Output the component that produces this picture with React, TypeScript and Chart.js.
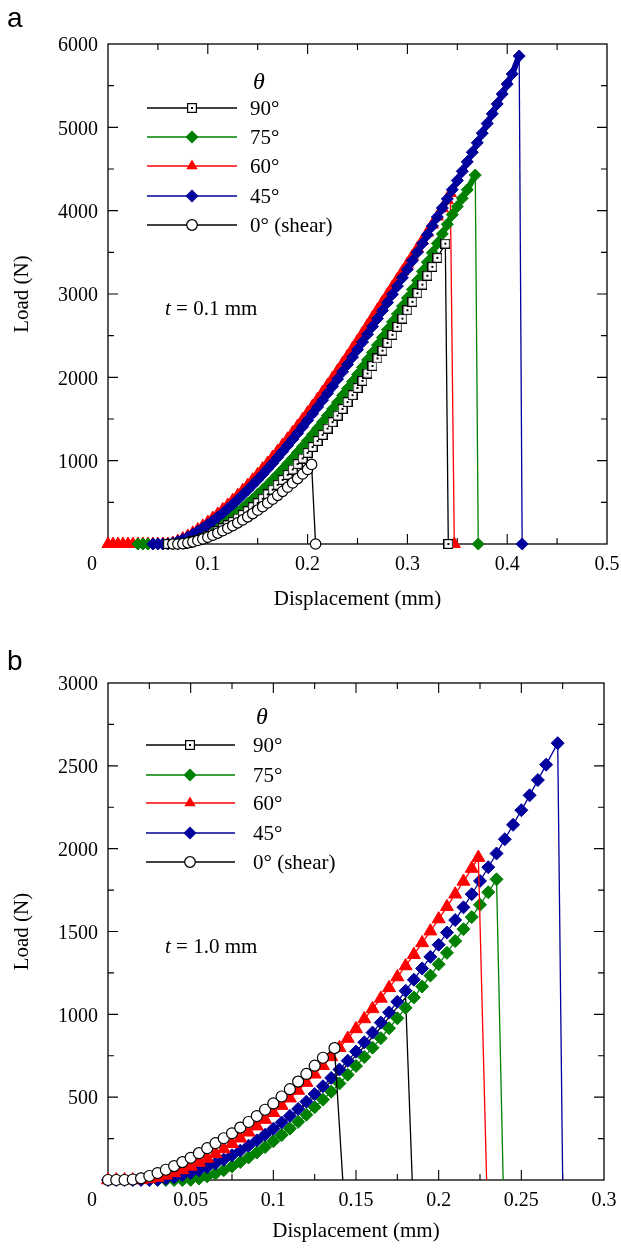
import React, { useEffect, useRef } from "react";
import { Chart, registerables } from "chart.js";

Chart.register(...registerables);

// ================= DATA: panel a (t = 0.1 mm) =================
const GRID_A = [
  0, 0.005, 0.01, 0.015, 0.02, 0.025, 0.03, 0.035, 0.04, 0.045, 0.05, 0.055, 0.06, 0.065, 0.07, 0.075,
  0.08, 0.085, 0.09, 0.095, 0.1, 0.105, 0.11, 0.115, 0.12, 0.125, 0.13, 0.135, 0.14, 0.145, 0.15, 0.155,
  0.16, 0.165, 0.17, 0.175, 0.18, 0.185, 0.19, 0.195, 0.2, 0.205, 0.21, 0.215, 0.22, 0.225, 0.23, 0.235,
  0.24, 0.245, 0.25, 0.255, 0.26, 0.265, 0.27, 0.275, 0.28, 0.285, 0.29, 0.295, 0.3, 0.305, 0.31, 0.315,
  0.32, 0.325, 0.33, 0.335, 0.34, 0.345, 0.35, 0.355, 0.36, 0.365, 0.37, 0.375, 0.38, 0.385, 0.39, 0.395,
  0.4, 0.405, 0.41,
];
const X_LABELS_A = [0.1, 0.2, 0.3, 0.4, 0.5];
const Y_LABELS_A = [1000, 2000, 3000, 4000, 5000, 6000];

// 90°
const A90_FROM = 12;
const A90_Y = [
  0, 0, 0, 5, 16, 31, 50, 72, 97, 125, 156, 190, 226, 265, 306, 349, 394, 441, 491, 543, 596, 652, 710,
  769, 830, 894, 959, 1026, 1094, 1164, 1236, 1310, 1385, 1462, 1541, 1621, 1703, 1786, 1872, 1958, 2046,
  2136, 2227, 2320, 2414, 2510, 2606, 2705, 2805, 2906, 3009, 3113, 3219, 3326, 3434,
];
const A90_PEAK = [0.338, 3604];
const A90_DROP = 0.341;
// 75°
const A75_FROM = 6;
const A75_Y = [
  0, 0, 0, 0, 0, 0, 0, 0, 0, 9, 25, 47, 72, 101, 133, 169, 207, 247, 290, 336, 383, 433, 484, 538, 593,
  650, 709, 770, 832, 896, 962, 1029, 1098, 1168, 1240, 1313, 1388, 1464, 1541, 1620, 1700, 1782, 1864,
  1948, 2033, 2120, 2208, 2296, 2387, 2478, 2571, 2664, 2759, 2854, 2951, 3055, 3162, 3271, 3382, 3494,
  3607, 3721, 3836, 3952, 4050, 4150, 4250,
];
const A75_PEAK = [0.368, 4427];
const A75_DROP = 0.371;
// 60°
const A60_FROM = 0;
const A60_Y = [
  0, 0, 0, 0, 0, 0, 0, 0, 0, 0, 0, 0, 0, 13, 36, 65, 97, 134, 174, 217, 262, 311, 361, 414, 469, 526, 584,
  645, 707, 772, 837, 905, 973, 1044, 1116, 1189, 1263, 1339, 1416, 1495, 1575, 1656, 1738, 1822, 1906,
  1992, 2079, 2167, 2256, 2346, 2437, 2529, 2623, 2717, 2810, 2902, 2994, 3086, 3178, 3270, 3362, 3455,
  3548, 3642, 3737, 3833, 3930, 4028, 4127,
];
const A60_PEAK = [0.343, 4210];
const A60_DROP = 0.347;
// 45°
const A45_FROM = 9;
const A45_Y = [
  0, 0, 0, 0, 11, 30, 54, 83, 116, 152, 191, 232, 277, 323, 372, 424, 477, 532, 590, 649, 710, 772, 837,
  903, 970, 1039, 1110, 1182, 1255, 1330, 1407, 1485, 1564, 1644, 1726, 1809, 1893, 1979, 2066, 2154, 2243,
  2333, 2424, 2517, 2611, 2705, 2801, 2898, 2996, 3095, 3195, 3296, 3399, 3502, 3606, 3711, 3817, 3924,
  4032, 4141, 4251, 4362, 4473, 4586, 4700, 4814, 4930, 5046, 5163, 5281, 5400, 5520, 5641,
];
const A45_PEAK = [0.412, 5856];
const A45_DROP = 0.415;
// 0° (shear)
const A0_FROM = 13;
const A0_Y = [
  0, 0, 4, 14, 26, 42, 61, 82, 105, 131, 159, 189, 220, 254, 289, 326, 365, 406, 448, 492, 537, 584, 632,
  682, 733, 785, 840, 895,
];
const A0_PEAK = [0.204, 955];
const A0_DROP = 0.208;

// ================= DATA: panel b (t = 1.0 mm) =================
const GRID_B = [
  0, 0.005, 0.01, 0.015, 0.02, 0.025, 0.03, 0.035, 0.04, 0.045, 0.05, 0.055, 0.06, 0.065, 0.07, 0.075,
  0.08, 0.085, 0.09, 0.095, 0.1, 0.105, 0.11, 0.115, 0.12, 0.125, 0.13, 0.135, 0.14, 0.145, 0.15, 0.155,
  0.16, 0.165, 0.17, 0.175, 0.18, 0.185, 0.19, 0.195, 0.2, 0.205, 0.21, 0.215, 0.22, 0.225, 0.23, 0.235,
  0.24, 0.245, 0.25, 0.255, 0.26, 0.265,
];
const X_LABELS_B = [0.05, 0.1, 0.15, 0.2, 0.25, 0.3];
const Y_LABELS_B = [500, 1000, 1500, 2000, 2500, 3000];

// 90° (line only, lies under the 45° markers)
const B90_FROM = 0;
const B90_Y = [
  0, 0, 0, 0, 0, 0, 2, 8, 16, 28, 42, 57, 76, 97, 119, 145, 172, 201, 232, 265, 300, 337, 376, 416, 459,
  503, 549, 597, 647, 699, 752, 806, 863, 922, 982, 1044,
];
const B90_PEAK = [0.18, 1100];
const B90_DROP = 0.184;
// 75°
const B75_FROM = 6;
const B75_Y = [
  0, 0, 0, 0, 1, 9, 22, 39, 59, 82, 108, 136, 166, 199, 234, 271, 310, 351, 394, 439, 485, 533, 583, 635,
  688, 742, 799, 856, 916, 976, 1039, 1102, 1168, 1234, 1302, 1371, 1442, 1514, 1587, 1661, 1737,
];
const B75_PEAK = [0.235, 1815];
const B75_DROP = 0.239;
// 60°
const B60_FROM = 0;
const B60_Y = [
  0, 0, 0, 0, 1, 6, 15, 28, 43, 61, 82, 105, 130, 158, 187, 219, 252, 288, 325, 365, 406, 449, 494, 540,
  588, 638, 690, 743, 798, 854, 912, 972, 1033, 1096, 1160, 1225, 1292, 1360, 1431, 1502, 1575, 1649,
  1725, 1802, 1880,
];
const B60_PEAK = [0.224, 1946];
const B60_DROP = 0.229;
// 45°
const B45_FROM = 0;
const B45_Y = [
  0, 0, 0, 0, 0, 0, 2, 8, 17, 29, 43, 59, 78, 100, 123, 149, 177, 207, 239, 273, 309, 347, 387, 429, 473,
  519, 566, 616, 667, 720, 775, 831, 890, 950, 1012, 1076, 1142, 1209, 1277, 1347, 1420, 1494, 1569, 1646,
  1725, 1805, 1888, 1971, 2057, 2144, 2232, 2322, 2414, 2507,
];
const B45_PEAK = [0.272, 2637];
const B45_DROP = 0.275;
// 0° (shear)
const B0_FROM = 0;
const B0_Y = [
  0, 0, 0, 3, 10, 24, 42, 62, 84, 108, 134, 162, 192, 222, 252, 282, 316, 350, 386, 424, 462, 504, 548,
  594, 640, 690, 738,
];
const B0_PEAK = [0.137, 796];
const B0_DROP = 0.142;

// ================= STYLE =================
const W = 621;
const H = 628;
const SERIF = '"Liberation Serif", "Times New Roman", Times, serif';
const SANS = '"Liberation Sans", Arial, Helvetica, sans-serif';
const C_BLACK = "#000000";
const C_GREEN = "#008000";
const C_RED = "#ff0000";
const C_BLUE = "#00009c";

const SERIES_A = [
  { label: "90°", color: C_BLACK, marker: "square", from: A90_FROM, y: A90_Y, peak: A90_PEAK, drop: A90_DROP, order: 2, band: false },
  { label: "75°", color: C_GREEN, marker: "diamond", from: A75_FROM, y: A75_Y, peak: A75_PEAK, drop: A75_DROP, order: 4, band: true },
  { label: "60°", color: C_RED, marker: "triangle", from: A60_FROM, y: A60_Y, peak: A60_PEAK, drop: A60_DROP, order: 5, band: true },
  { label: "45°", color: C_BLUE, marker: "diamond", from: A45_FROM, y: A45_Y, peak: A45_PEAK, drop: A45_DROP, order: 3, band: true },
  { label: "0° (shear)", color: C_BLACK, marker: "circle", from: A0_FROM, y: A0_Y, peak: A0_PEAK, drop: A0_DROP, order: 1, band: false },
];
const SERIES_B = [
  { label: "90°", color: C_BLACK, marker: "none", from: B90_FROM, y: B90_Y, peak: B90_PEAK, drop: B90_DROP, order: 5, band: false },
  { label: "75°", color: C_GREEN, marker: "diamond", from: B75_FROM, y: B75_Y, peak: B75_PEAK, drop: B75_DROP, order: 4, band: false },
  { label: "60°", color: C_RED, marker: "triangle", from: B60_FROM, y: B60_Y, peak: B60_PEAK, drop: B60_DROP, order: 2, band: false },
  { label: "45°", color: C_BLUE, marker: "diamond", from: B45_FROM, y: B45_Y, peak: B45_PEAK, drop: B45_DROP, order: 3, band: false },
  { label: "0° (shear)", color: C_BLACK, marker: "circle", from: B0_FROM, y: B0_Y, peak: B0_PEAK, drop: B0_DROP, order: 1, band: false },
];
const LEGEND_MARKERS = ["square", "diamond", "triangle", "diamond", "circle"];

const PANEL_A = {
  letter: "a", letterY: 27,
  area: { left: 100, top: 44, right: 607, bottom: 552 },
  xMax: 0.5, xStep: 0.05, xMajor: 0.1,
  yMax: 6000, yStep: 500, yMajor: 1000,
  xLabels: X_LABELS_A, yLabels: Y_LABELS_A,
  grid: GRID_A, series: SERIES_A,
  thetaX: 253, thetaY: 83, rowsY: [108, 137, 166, 196, 225], lineX: [147, 237], markerX: 192, textX: 250,
  tText: "0.1", tY: 315, titleDy: 61,
  sizes: { diamond: 6, triangle: 7, circle: 5.2 }, band: 6, dropMarkers: true,
};
const PANEL_B = {
  letter: "b", letterY: 42,
  area: { left: 100, top: 55, right: 604, bottom: 560 },
  xMax: 0.3, xStep: 0.025, xMajor: 0.05,
  yMax: 3000, yStep: 250, yMajor: 500,
  xLabels: X_LABELS_B, yLabels: Y_LABELS_B,
  grid: GRID_B, series: SERIES_B,
  thetaX: 256, thetaY: 90, rowsY: [117, 147, 175, 205, 234], lineX: [146, 235], markerX: 190, textX: 253,
  tText: "1.0", tY: 325, titleDy: 57,
  sizes: { diamond: 6.5, triangle: 7.5, circle: 5.5 }, band: 1.3, dropMarkers: false,
};

function isMult(v: number, m: number) {
  const q = v / m;
  return Math.abs(q - Math.round(q)) < 1e-6;
}
function fmt(v: number) {
  return String(parseFloat(v.toFixed(4)));
}

function makeSquare(): HTMLCanvasElement {
  const c = document.createElement("canvas");
  c.width = 10;
  c.height = 10;
  const g = c.getContext("2d")!;
  g.fillStyle = "#fff";
  g.fillRect(0, 0, 10, 10);
  g.strokeStyle = "#000";
  g.lineWidth = 1.2;
  g.strokeRect(0.6, 0.6, 8.8, 8.8);
  g.fillStyle = "#000";
  g.fillRect(4, 4, 2, 2);
  return c;
}

function pointOpts(s: any, cfg: any, sq: HTMLCanvasElement) {
  const sz = cfg.sizes;
  switch (s.marker) {
    case "square":
      return { pointStyle: sq, pointRadius: 5, pointBorderWidth: 0, pointBackgroundColor: "#fff", pointBorderColor: "#000" };
    case "diamond":
      return { pointStyle: "rectRot", pointRadius: sz.diamond, pointBorderWidth: 1, pointBackgroundColor: s.color, pointBorderColor: s.color };
    case "triangle":
      return { pointStyle: "triangle", pointRadius: sz.triangle, pointBorderWidth: 1, pointBackgroundColor: s.color, pointBorderColor: s.color };
    case "circle":
      return { pointStyle: "circle", pointRadius: sz.circle, pointBorderWidth: 1.2, pointBackgroundColor: "#fff", pointBorderColor: "#000" };
    default:
      return { pointStyle: "circle", pointRadius: 0, pointBorderWidth: 0 };
  }
}

function drawLegendMarker(ctx: CanvasRenderingContext2D, kind: string, x: number, y: number, color: string, sq: HTMLCanvasElement) {
  ctx.save();
  if (kind === "square") {
    ctx.drawImage(sq, Math.round(x - 5), Math.round(y - 5));
  } else if (kind === "diamond") {
    const r = 6.5;
    ctx.fillStyle = color;
    ctx.beginPath();
    ctx.moveTo(x, y - r);
    ctx.lineTo(x + r, y);
    ctx.lineTo(x, y + r);
    ctx.lineTo(x - r, y);
    ctx.closePath();
    ctx.fill();
  } else if (kind === "triangle") {
    const r = 6.5;
    ctx.fillStyle = color;
    ctx.beginPath();
    ctx.moveTo(x, y - r);
    ctx.lineTo(x + r * 0.866, y + r * 0.5);
    ctx.lineTo(x - r * 0.866, y + r * 0.5);
    ctx.closePath();
    ctx.fill();
  } else if (kind === "circle") {
    ctx.fillStyle = "#fff";
    ctx.strokeStyle = "#000";
    ctx.lineWidth = 1.3;
    ctx.beginPath();
    ctx.arc(x, y, 5.3, 0, Math.PI * 2);
    ctx.fill();
    ctx.stroke();
  }
  ctx.restore();
}

function makePlugin(cfg: any, sq: HTMLCanvasElement) {
  return {
    id: "panelDecor",
    beforeDatasetsDraw(chart: any) {
      const { ctx, chartArea: a } = chart;
      const xs = chart.scales.x;
      const ys = chart.scales.y;
      ctx.save();
      ctx.strokeStyle = "#000";
      ctx.lineWidth = 1.3;
      ctx.strokeRect(a.left, a.top, a.right - a.left, a.bottom - a.top);
      ctx.lineWidth = 1.1;
      ctx.beginPath();
      for (const t of xs.ticks) {
        const v = t.value;
        if (v <= 1e-9 || v >= cfg.xMax - 1e-9) continue;
        const px = xs.getPixelForValue(v);
        const len = isMult(v, cfg.xMajor) ? 10 : 6;
        ctx.moveTo(px, a.bottom);
        ctx.lineTo(px, a.bottom - len);
        ctx.moveTo(px, a.top);
        ctx.lineTo(px, a.top + len);
      }
      for (const t of ys.ticks) {
        const v = t.value;
        if (v <= 1e-9 || v >= cfg.yMax - 1e-9) continue;
        const py = ys.getPixelForValue(v);
        const len = isMult(v, cfg.yMajor) ? 10 : 6;
        ctx.moveTo(a.left, py);
        ctx.lineTo(a.left + len, py);
        ctx.moveTo(a.right, py);
        ctx.lineTo(a.right - len, py);
      }
      ctx.stroke();
      ctx.restore();
    },
    afterDraw(chart: any) {
      const { ctx, chartArea: a } = chart;
      const xs = chart.scales.x;
      const ys = chart.scales.y;
      ctx.save();
      ctx.fillStyle = "#000";
      // tick labels
      ctx.font = `20px ${SERIF}`;
      ctx.textAlign = "center";
      ctx.textBaseline = "middle";
      for (const v of cfg.xLabels) ctx.fillText(fmt(v), xs.getPixelForValue(v), a.bottom + 21);
      ctx.fillText("0", a.left - 16, a.bottom + 21);
      ctx.textAlign = "right";
      for (const v of cfg.yLabels) ctx.fillText(String(v), a.left - 10, ys.getPixelForValue(v) + 2);
      // axis titles
      ctx.font = `21px ${SERIF}`;
      ctx.textAlign = "center";
      ctx.textBaseline = "alphabetic";
      ctx.fillText("Displacement (mm)", (a.left + a.right) / 2, a.bottom + cfg.titleDy);
      ctx.save();
      ctx.translate(22, (a.top + a.bottom) / 2);
      ctx.rotate(-Math.PI / 2);
      ctx.textBaseline = "middle";
      ctx.fillText("Load (N)", 0, 0);
      ctx.restore();
      // panel letter
      ctx.font = `28px ${SANS}`;
      ctx.textAlign = "left";
      ctx.textBaseline = "alphabetic";
      ctx.fillText(cfg.letter, 7, cfg.letterY);
      // legend
      ctx.font = `italic 24px ${SERIF}`;
      ctx.textBaseline = "middle";
      ctx.fillText("θ", cfg.thetaX, cfg.thetaY);
      cfg.series.forEach((s: any, i: number) => {
        const y = cfg.rowsY[i];
        ctx.strokeStyle = s.color;
        ctx.lineWidth = 1.6;
        ctx.beginPath();
        ctx.moveTo(cfg.lineX[0], y);
        ctx.lineTo(cfg.lineX[1], y);
        ctx.stroke();
        drawLegendMarker(ctx, LEGEND_MARKERS[i], cfg.markerX, y, s.color, sq);
        ctx.fillStyle = "#000";
        ctx.font = `21px ${SERIF}`;
        ctx.textAlign = "left";
        ctx.textBaseline = "middle";
        ctx.fillText(s.label, cfg.textX, y + 1);
      });
      // thickness annotation
      ctx.textBaseline = "alphabetic";
      ctx.font = `italic 21px ${SERIF}`;
      ctx.fillText("t", 165, cfg.tY);
      const w = ctx.measureText("t").width;
      ctx.font = `21px ${SERIF}`;
      ctx.fillText(" = " + cfg.tText + " mm", 165 + w, cfg.tY);
      ctx.restore();
    },
  };
}

function Panel({ cfg }: { cfg: any }) {
  const ref = useRef<HTMLCanvasElement | null>(null);
  useEffect(() => {
    const canvas = ref.current;
    if (!canvas) return;
    const sq = makeSquare();
    const datasets: any[] = [];
    for (const s of cfg.series) {
      const pts = s.y.map((v: number, i: number) => ({ x: cfg.grid[s.from + i], y: v }));
      pts.push({ x: s.peak[0], y: s.peak[1] });
      const ps: any = pointOpts(s, cfg, sq);
      datasets.push({
        label: s.label,
        data: pts,
        order: s.order,
        borderColor: s.color,
        backgroundColor: s.color,
        borderWidth: s.band ? cfg.band : 1.3,
        borderJoinStyle: "round",
        borderCapStyle: "round",
        tension: 0,
        fill: false,
        clip: false,
        showLine: true,
        ...ps,
      });
      const r = ps.pointRadius;
      datasets.push({
        label: s.label + " failure",
        data: [{ x: s.peak[0], y: s.peak[1] }, { x: s.drop, y: 0 }],
        order: s.order,
        borderColor: s.color,
        backgroundColor: s.color,
        borderWidth: 1.3,
        tension: 0,
        fill: false,
        clip: false,
        showLine: true,
        ...ps,
        pointRadius: (c: any) => (c.dataIndex === 1 && cfg.dropMarkers ? r : 0),
      });
    }
    const a = cfg.area;
    const chart = new Chart(canvas, {
      type: "line",
      data: { datasets },
      options: {
        responsive: false,
        animation: false,
        devicePixelRatio: 1,
        events: [],
        layout: { padding: { left: a.left, top: a.top, right: W - a.right, bottom: H - a.bottom } },
        plugins: { legend: { display: false }, tooltip: { enabled: false } },
        scales: {
          x: {
            type: "linear",
            min: 0,
            max: cfg.xMax,
            ticks: { display: false, stepSize: cfg.xStep },
            grid: { display: false },
            border: { display: false },
          },
          y: {
            type: "linear",
            min: 0,
            max: cfg.yMax,
            ticks: { display: false, stepSize: cfg.yStep },
            grid: { display: false },
            border: { display: false },
          },
        },
      } as any,
      plugins: [makePlugin(cfg, sq)],
    } as any);
    return () => chart.destroy();
  }, [cfg]);
  return <canvas ref={ref} width={W} height={H} style={{ display: "block", width: W, height: H }} />;
}

export default function App() {
  return (
    <div style={{ position: "absolute", left: 0, top: 0, width: W, height: 2 * H, background: "#fff" }}>
      <Panel cfg={PANEL_A} />
      <Panel cfg={PANEL_B} />
    </div>
  );
}
